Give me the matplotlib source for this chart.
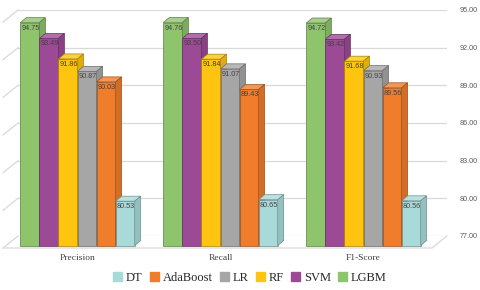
import matplotlib
matplotlib.use("Agg")
import matplotlib.pyplot as plt
import matplotlib.transforms as mtransforms
from matplotlib.patches import Polygon
import numpy as np

categories = ["Precision", "Recall", "F1-Score"]
models = ["LGBM", "SVM", "RF", "LR", "AdaBoost", "DT"]
lgbm = [94.75, 94.76, 94.72]
svm = [93.49, 93.50, 93.42]
rf = [91.86, 91.84, 91.68]
lr = [90.87, 91.07, 90.93]
adaboost = [90.03, 89.43, 89.56]
dt = [80.53, 80.65, 80.56]
series = [lgbm, svm, rf, lr, adaboost, dt]
yticks = [77, 80, 83, 86, 89, 92, 95]
legend_order = ["DT", "AdaBoost", "LR", "RF", "SVM", "LGBM"]

colors = {"LGBM": "#8ec46b", "SVM": "#9c4a96", "RF": "#fec40f",
          "LR": "#a6a6a6", "AdaBoost": "#ef7d2b", "DT": "#a9dada"}

def shade(c, f):
    r, g, b = matplotlib.colors.to_rgb(c)
    if f > 1:
        return (r + (1 - r) * (f - 1), g + (1 - g) * (f - 1), b + (1 - b) * (f - 1))
    return (r * f, g * f, b * f)

DPI = 100
fig = plt.figure(figsize=(4.8, 2.9), dpi=DPI)
ax = fig.add_axes([18 / 480, (290 - 236) / 290, 429 / 480, 226 / 290])
ax.set_xlim(-0.5, 2.5)
ax.set_ylim(77, 95)
for s in ax.spines.values():
    s.set_visible(False)
ax.set_xticks([])
ax.set_yticks(yticks)
ax.set_yticklabels([f"{t:.2f}" for t in yticks])
ax.yaxis.tick_right()
ax.tick_params(axis="y", length=0, pad=9, labelsize=5.2, labelcolor="#595959")
for lab in ax.get_yticklabels():
    lab.set_fontfamily("Liberation Sans")
ax.yaxis.grid(True, color="#d9d9d9", linewidth=0.9)
ax.set_axisbelow(True)

# 3D offsets in pixels (x right, y up)
FRONT = (-12.0, -9.5)
BACK = (-6.0, -4.5)
WALL = (-15.0, -12.0)

def D(x, y, off=(0, 0)):
    p = ax.transData.transform((x, y))
    return (p[0] + off[0], p[1] + off[1])

def offtrans(off):
    return ax.transData + mtransforms.ScaledTranslation(off[0] / DPI, off[1] / DPI, fig.dpi_scale_trans)

ident = mtransforms.IdentityTransform()

# side wall diagonals and floor
for g in yticks:
    a = D(-0.5, g)
    b = D(-0.5, g, WALL)
    ax.add_line(plt.Line2D([a[0], b[0]], [a[1], b[1]], transform=ident, color="#d9d9d9", lw=0.9, clip_on=False, zorder=0.5))
fl = D(-0.5, 77, WALL)
fr = D(2.5, 77, WALL)
br = D(2.5, 77)
ax.add_line(plt.Line2D([fl[0], fr[0], br[0]], [fl[1], fr[1], br[1]], transform=ident, color="#d9d9d9", lw=0.9, clip_on=False, zorder=0.5))

n = len(models)
w = 0.8 / n
x = np.arange(len(categories))
z = 2
for ci in range(len(categories)):
    for mi, (m, vals) in enumerate(zip(models, series)):
        v = vals[ci]
        x0 = x[ci] - 0.4 + mi * w
        x1 = x0 + w
        c = colors[m]
        ec = shade(c, 0.65)
        # front face
        ax.bar([x0], [v - 77], bottom=77, width=w, align="edge", color=c, edgecolor=ec,
               linewidth=0.5, transform=offtrans(FRONT), clip_on=False, zorder=z)
        # top face
        top = [D(x0, v, FRONT), D(x1, v, FRONT), D(x1, v, BACK), D(x0, v, BACK)]
        ax.add_patch(Polygon(top, closed=True, transform=ident, facecolor=shade(c, 1.2),
                             edgecolor=ec, linewidth=0.5, clip_on=False, zorder=z))
        # side face
        side = [D(x1, 77, FRONT), D(x1, v, FRONT), D(x1, v, BACK), D(x1, 77, BACK)]
        ax.add_patch(Polygon(side, closed=True, transform=ident, facecolor=shade(c, 0.88),
                             edgecolor=ec, linewidth=0.5, clip_on=False, zorder=z))
        ax.annotate(f"{v:.2f}", xy=(x0, v), xycoords=offtrans(FRONT), xytext=(1, -2),
                    textcoords="offset pixels", ha="left", va="top", fontsize=5.2,
                    family="Liberation Sans", color="#404040", zorder=z + 0.5, annotation_clip=False)
        z += 1

# category labels
for ci, cat in enumerate(categories):
    ax.annotate(cat, xy=(x[ci], 77), xycoords=offtrans(FRONT), xytext=(0, -13),
                textcoords="offset pixels", ha="center", va="center", fontsize=6.8,
                family="Liberation Serif", color="#404040", annotation_clip=False)

handles = [plt.Rectangle((0, 0), 1, 1, color=colors[m]) for m in legend_order]
leg = fig.legend(handles, legend_order, loc="center", bbox_to_anchor=(250 / 480, 1 - 278 / 290),
                 ncol=6, frameon=False, prop={"family": "Liberation Serif", "size": 9},
                 handlelength=0.7, handleheight=0.7, handletextpad=0.3, columnspacing=0.6)
for t in leg.get_texts():
    t.set_color("#262626")

fig.savefig("out.png", dpi=DPI)
